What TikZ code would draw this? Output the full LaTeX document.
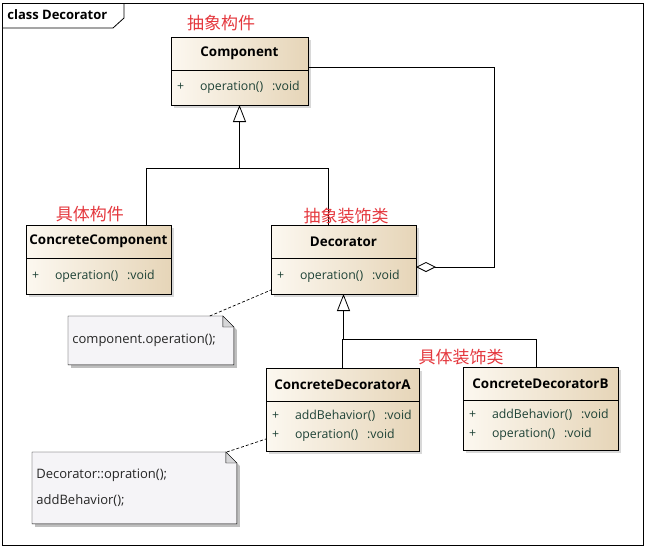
\documentclass[tikz,border=0pt]{standalone}
\usepackage{fontspec}
\setsansfont{Open Sans}
\newfontfamily\cjk{Noto Sans CJK SC}
\usetikzlibrary{arrows.meta}
\usetikzlibrary{positioning}
\usetikzlibrary{shadows}
\usetikzlibrary{backgrounds}
\definecolor{boxL}{RGB}{252,248,240}
\definecolor{boxR}{RGB}{230,213,184}
\definecolor{memb}{RGB}{30,66,54}
\definecolor{notefill}{RGB}{245,244,247}
\definecolor{foldfill}{RGB}{214,214,216}
\definecolor{tagred}{RGB}{228,56,62}
\def\pl{\makebox[23pt][l]{+}}
\def\op#1{\mbox{\pl #1\hspace{9pt}:void}}
\def\fold{11pt}

\begin{document}
\begin{tikzpicture}[x=1pt,y=-1pt,line width=0.8pt,
  cls head/.style={draw,left color=boxL,right color=boxR,inner sep=0pt,outer sep=0pt,
    minimum height=33pt,anchor=north west,font=\sffamily\bfseries\fontsize{13.4}{16}\selectfont,
    drop shadow={shadow xshift=3pt,shadow yshift=-3pt,fill=black!30}},
  cls body/.style={draw,left color=boxL,right color=boxR,inner xsep=6pt,inner ysep=0pt,outer sep=0pt,
    align=left,text=memb,font=\sffamily\fontsize{12.3}{19}\selectfont,
    drop shadow={shadow xshift=3pt,shadow yshift=-3pt,fill=black!30}},
  tag/.style={text=tagred,font=\cjk\fontsize{17}{20}\selectfont,inner sep=0pt},
  note/.style={anchor=north west,inner xsep=4pt,inner ysep=0pt,align=left,
    text=black!85,font=\sffamily\fontsize{13}{26}\selectfont},
  tree/.style={line width=0.8pt},
  inherit/.style={line width=1.4pt,-{Triangle[length=17pt,width=13pt,fill=white,line width=0.8pt]}},
  agg/.style={line width=0.8pt,-{Diamond[length=20pt,width=10pt,fill=white]}},
  trace/.style={dash pattern=on 3pt off 2pt,line width=0.7pt}]

\useasboundingbox (0,0) rectangle (646,547);

% frame
\draw (2,3) rectangle (643,545);
\draw (2,28) -- (113,28) -- (124,18) -- (124,3);
\node[anchor=west,inner sep=0pt,font=\sffamily\bfseries\fontsize{13}{15}\selectfont] (title) at (7,15) {class Decorator};

% classes
\node[cls head,minimum width=137pt] (comp) at (171,37) {Component};
\node[cls body,below=0pt of comp,text width=125pt,minimum height=35pt] (comp-m) {\op{operation()}};

\node[cls head,minimum width=145pt] (cc) at (26,225) {ConcreteComponent};
\node[cls body,below=0pt of cc,text width=133pt,minimum height=36pt] (cc-m) {\op{operation()}};

\node[cls head,minimum width=145pt] (deco) at (271,225) {Decorator};
\node[cls body,below=0pt of deco,text width=133pt,minimum height=36pt] (deco-m) {\op{operation()}};

\node[cls head,minimum width=153pt] (cda) at (266,368) {ConcreteDecoratorA};
\node[cls body,below=0pt of cda,text width=141pt,minimum height=50pt] (cda-m) {\op{addBehavior()}\\ \op{operation()}};

\node[cls head,minimum width=155pt] (cdb) at (463,367) {ConcreteDecoratorB};
\node[cls body,below=0pt of cdb,text width=143pt,minimum height=50pt] (cdb-m) {\op{addBehavior()}\\ \op{operation()}};

% notes
\node[note,text width=157pt,minimum height=48pt] (n1) at (68,316) {component.operation();};
\node[note,text width=196pt,minimum height=71pt] (n2) at (32,452) {Decorator::opration();\\addBehavior();};

\begin{pgfonlayer}{background}
  \foreach \n in {n1,n2} {
    \fill[black!25] ([shift={(3pt,-3pt)}]\n.north west) -- ([shift={(3pt-\fold,-3pt)}]\n.north east)
      -- ([shift={(3pt,-3pt-\fold)}]\n.north east) -- ([shift={(3pt,-3pt)}]\n.south east)
      -- ([shift={(3pt,-3pt)}]\n.south west) -- cycle;
    \draw[fill=notefill] (\n.north west) -- ([xshift=-\fold]\n.north east)
      -- ([yshift=-\fold]\n.north east) -- (\n.south east) -- (\n.south west) -- cycle;
    \draw[fill=foldfill,line join=miter] ([xshift=-\fold]\n.north east)
      -- ([xshift=-\fold,yshift=-\fold]\n.north east) -- ([yshift=-\fold]\n.north east) -- cycle;
  }
\end{pgfonlayer}

\draw[trace] ([xshift=-24pt]n1.north east) -- ([yshift=4pt]deco-m.south west);
\draw[trace] ([xshift=-10pt]n2.north east) -- ([yshift=12pt]cda-m.south west);

% generalization
\coordinate (b1) at (146,168);
\coordinate (b2) at (328,168);
\coordinate (b3) at (536,339);
\draw[tree] (b1 |- cc.north) -- (b1) -- (b2) -- (b2 |- deco.north);
\draw[inherit] (comp-m.south |- b1) -- (comp-m.south);
\draw[tree] (cda.north) -- (cda.north |- b3) -- (b3) -- (b3 |- cdb.north);
\draw[inherit] (deco-m.south |- b3) -- (deco-m.south);

% aggregation
\coordinate (a1) at (494,67);
\coordinate (a2) at (494,267);
\draw[agg] (comp.east |- a1) -- (a1) -- (a2) -- (a2 -| deco-m.east);

% stereotype tags
\node[tag] (t1) at (221,23) {抽象构件};
\node[tag] (t2) at (90,214) {具体构件};
\node[tag] (t3) at (346,216) {抽象装饰类};
\node[tag] (t4) at (461,357) {具体装饰类};

\end{tikzpicture}
\end{document}
